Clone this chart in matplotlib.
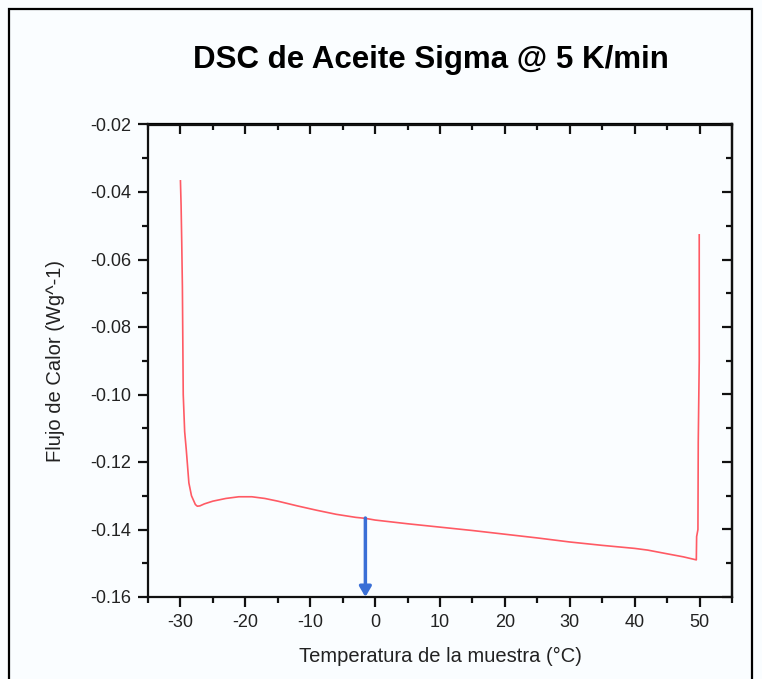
import matplotlib
matplotlib.use("Agg")
import matplotlib.pyplot as plt
from matplotlib.patches import Rectangle
from matplotlib.ticker import MultipleLocator

plt.rcParams['font.family'] = ['Liberation Sans', 'DejaVu Sans']
plt.rcParams['axes.unicode_minus'] = False

title = "DSC de Aceite Sigma @ 5 K/min"
xlabel = "Temperatura de la muestra (°C)"
ylabel = "Flujo de Calor (Wg^-1)"

temperature = [-30.0, -29.9, -29.8, -29.7, -29.57, -29.35, -29.1, -28.7, -28.3, -28.0,
               -27.7, -27.4, -27.0, -26.3, -25.0, -23.0, -21.0, -19.0, -17.0, -15.0,
               -12.0, -9.0, -6.0, -3.0, -1.5, 0.0, 5.0, 10.0, 15.0, 20.0, 25.0, 30.0,
               35.0, 40.0, 42.0, 45.0, 47.5, 49.5, 49.55, 49.75, 49.8, 49.95, 49.95]
heat_flow = [-0.0367, -0.044, -0.055, -0.068, -0.100, -0.111, -0.1164, -0.1262, -0.1300, -0.1313,
             -0.1326, -0.1331, -0.1330, -0.1324, -0.1316, -0.1308, -0.1303, -0.1303, -0.1308, -0.1316,
             -0.1330, -0.1343, -0.1355, -0.1364, -0.1367, -0.1372, -0.1383, -0.1393, -0.1403, -0.1414,
             -0.1425, -0.1437, -0.1447, -0.1456, -0.1461, -0.1472, -0.1481, -0.1490, -0.1421, -0.1400,
             -0.1140, -0.0900, -0.0527]

arrow_x = -1.5
arrow_y_start = -0.1366
arrow_y_end = -0.1600

fig = plt.figure(figsize=(7.62, 6.79), dpi=100, facecolor='#fafdff')
ax = fig.add_axes([148/762, 1-597/679, (732-148)/762, (597-124.5)/679])
ax.set_facecolor('#fafdff')

ax.plot(temperature, heat_flow, color='#ff5a64', lw=1.2)
ax.annotate('', xy=(arrow_x, arrow_y_end), xytext=(arrow_x, arrow_y_start),
            arrowprops=dict(arrowstyle='-|>,head_length=0.6,head_width=0.35',
                            color='#3a6fd6', lw=2.5, shrinkA=0, shrinkB=0))

ax.set_xlim(-35, 55)
ax.set_ylim(-0.16, -0.02)
ax.xaxis.set_major_locator(MultipleLocator(10))
ax.xaxis.set_minor_locator(MultipleLocator(5))
ax.set_yticks([-0.16, -0.14, -0.12, -0.10, -0.08, -0.06, -0.04, -0.02])
ax.set_yticklabels(["-0.16", "-0.14", "-0.12", "-0.10", "-0.08", "-0.06", "-0.04", "-0.02"])
ax.yaxis.set_minor_locator(MultipleLocator(0.01))

for s in ax.spines.values():
    s.set_linewidth(1.6)
    s.set_color('#111111')

ax.tick_params(which='major', direction='out', length=7, width=1.6, colors='#111111',
               labelsize=13, labelcolor='#222222', pad=5)
ax.tick_params(which='minor', direction='out', length=4, width=1.6, colors='#111111')

# mirrored ticks pointing inward on top and right
top = ax.secondary_xaxis('top')
top.xaxis.set_major_locator(MultipleLocator(10))
top.xaxis.set_minor_locator(MultipleLocator(5))
top.tick_params(which='major', direction='in', length=7, width=1.6, labeltop=False, colors='#111111')
top.tick_params(which='minor', direction='in', length=4, width=1.6, colors='#111111')
top.spines['top'].set_linewidth(1.6)
right = ax.secondary_yaxis('right')
right.yaxis.set_major_locator(MultipleLocator(0.02))
right.yaxis.set_minor_locator(MultipleLocator(0.01))
right.tick_params(which='major', direction='in', length=7, width=1.6, labelright=False, colors='#111111')
right.tick_params(which='minor', direction='in', length=4, width=1.6, colors='#111111')
right.spines['right'].set_linewidth(1.6)

ax.set_xlabel(xlabel, fontsize=14.5, color='#222222', labelpad=12)
ax.set_ylabel(ylabel, fontsize=14.5, color='#222222', labelpad=18)
fig.text(0.566, 1-60/679, title, ha='center', va='center', fontsize=22.5,
         fontweight='bold', color='#000000')

# outer frame
fig.patches.append(Rectangle((9/762, -0.05), (752-9)/762, 1.05-9/679,
                             transform=fig.transFigure, fill=False,
                             edgecolor='#000000', lw=1.6, clip_on=False))

fig.savefig('out.png', dpi=100, facecolor=fig.get_facecolor())
